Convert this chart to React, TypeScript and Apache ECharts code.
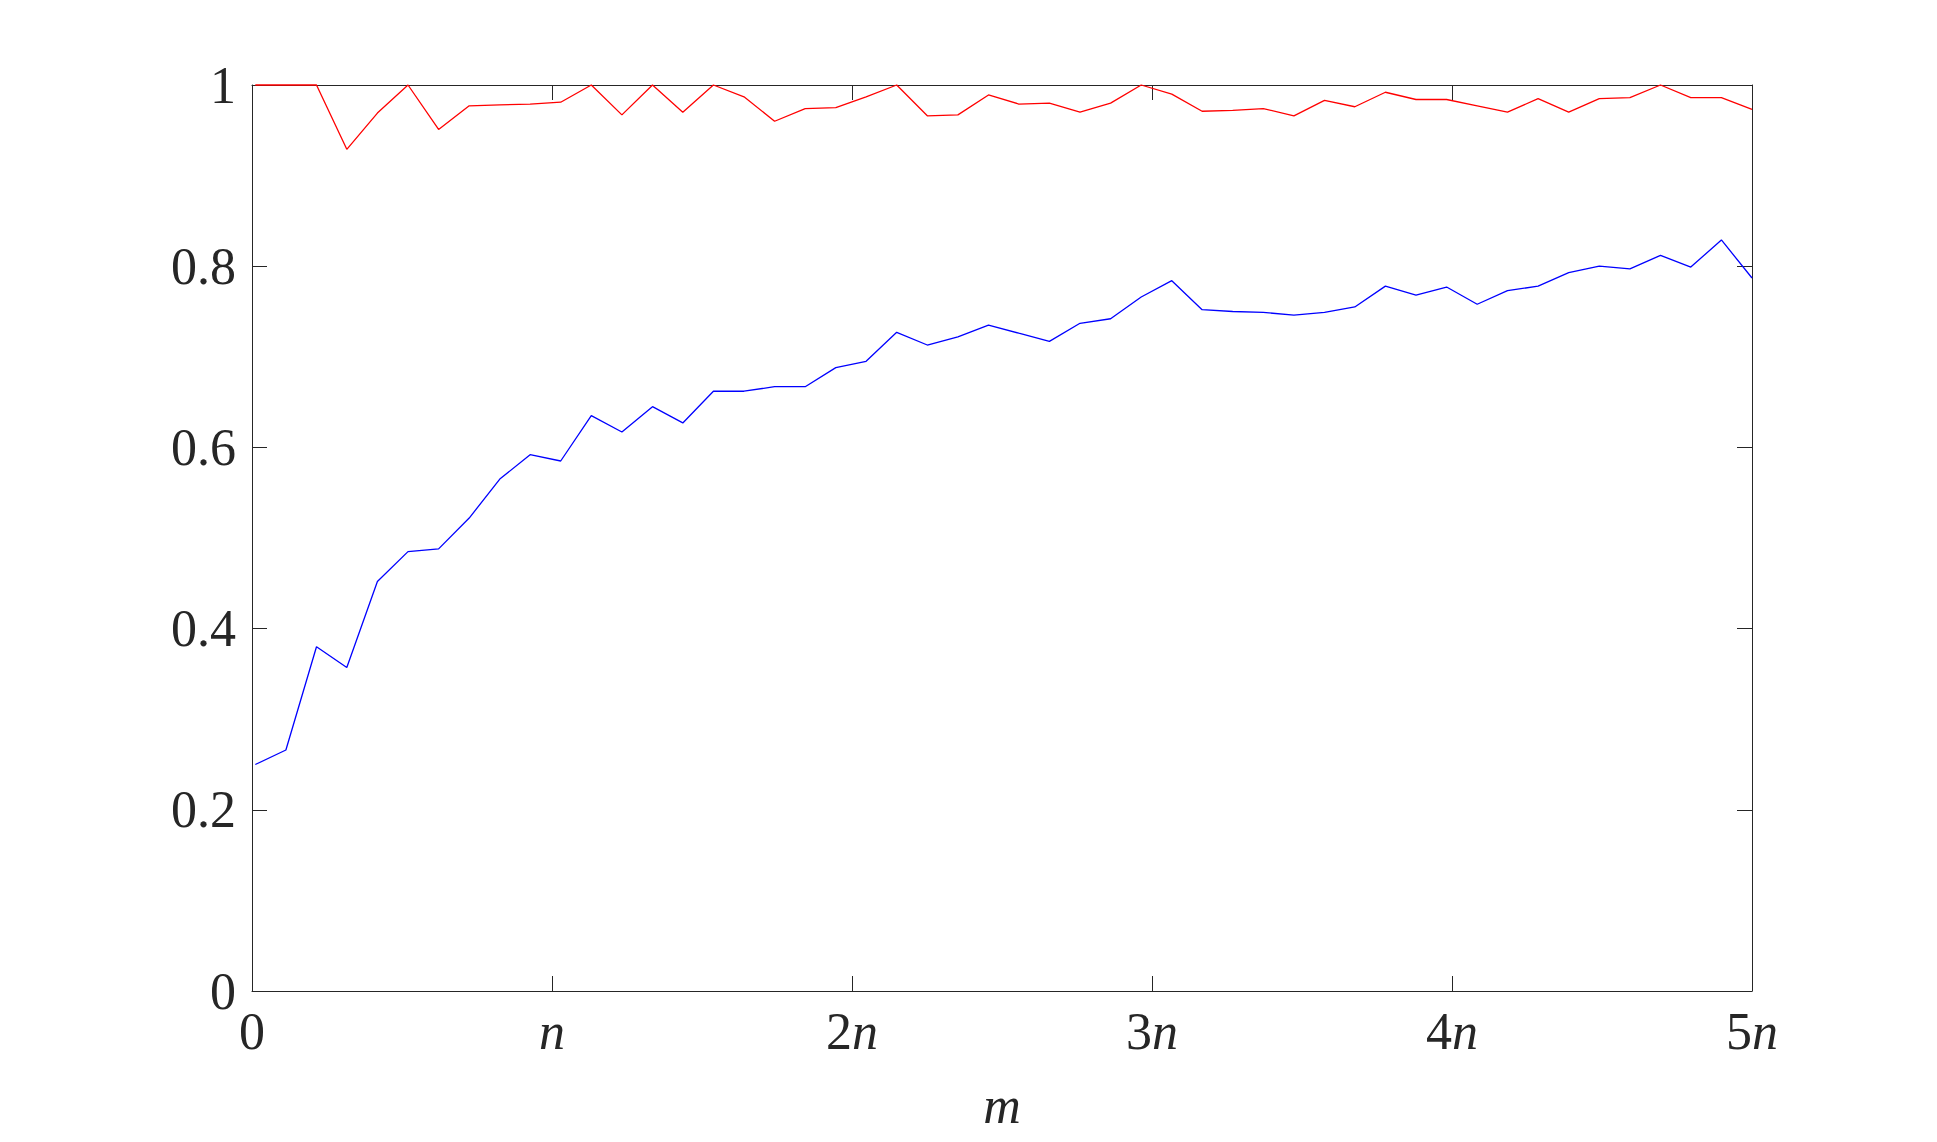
import React, { useEffect, useRef } from "react";
import * as echarts from "echarts";

// m in units of n
const mValues = [
  0.011, 0.113, 0.215, 0.316, 0.418, 0.52, 0.622, 0.724, 0.826, 0.927,
  1.029, 1.131, 1.233, 1.335, 1.436, 1.538, 1.64, 1.742, 1.844, 1.946,
  2.047, 2.149, 2.251, 2.353, 2.455, 2.556, 2.658, 2.76, 2.862, 2.964,
  3.066, 3.167, 3.269, 3.371, 3.473, 3.575, 3.676, 3.778, 3.88, 3.982,
  4.084, 4.185, 4.287, 4.389, 4.491, 4.593, 4.695, 4.796, 4.898, 5.0,
];

const redValues = [
  1.0, 1.0, 1.0, 0.929, 0.969, 1.0, 0.951, 0.977, 0.978, 0.979,
  0.981, 1.0, 0.967, 1.0, 0.97, 1.0, 0.987, 0.96, 0.974, 0.975,
  0.987, 1.0, 0.966, 0.967, 0.989, 0.979, 0.98, 0.97, 0.98, 1.0,
  0.99, 0.971, 0.972, 0.974, 0.966, 0.983, 0.976, 0.992, 0.984, 0.984,
  0.977, 0.97, 0.985, 0.97, 0.985, 0.986, 1.0, 0.986, 0.986, 0.973,
];

const blueValues = [
  0.25, 0.266, 0.38, 0.357, 0.452, 0.485, 0.488, 0.522, 0.565, 0.592,
  0.585, 0.635, 0.617, 0.645, 0.627, 0.662, 0.662, 0.667, 0.667, 0.688,
  0.695, 0.727, 0.713, 0.722, 0.735, 0.726, 0.717, 0.737, 0.742, 0.766,
  0.784, 0.752, 0.75, 0.749, 0.746, 0.749, 0.755, 0.778, 0.768, 0.777,
  0.758, 0.773, 0.778, 0.793, 0.8, 0.797, 0.812, 0.799, 0.829, 0.787,
];

const xTickLabels = ["0", "{i|n}", "2{i|n}", "3{i|n}", "4{i|n}", "5{i|n}"];

const FONT = "'Liberation Serif', 'DejaVu Serif', serif";
const AXIS_COLOR = "#262626";

export default function App() {
  const ref = useRef<HTMLDivElement>(null);

  useEffect(() => {
    if (!ref.current) return;
    const chart = echarts.init(ref.current, undefined, { renderer: "svg" });

    const richItalic = {
      i: { fontStyle: "italic", fontFamily: FONT, fontSize: 52, color: AXIS_COLOR },
    };

    const tickStyle = { show: true, inside: true, length: 15, lineStyle: { color: AXIS_COLOR, width: 1 } };
    const axisLine = { show: true, onZero: false, lineStyle: { color: AXIS_COLOR, width: 1 } };

    const option = {
      animation: false,
      backgroundColor: "#ffffff",
      grid: { left: 252, right: 185, top: 85, bottom: 151, containLabel: false },
      xAxis: [
        {
          type: "value",
          position: "bottom",
          min: 0,
          max: 5,
          interval: 1,
          axisLine,
          axisTick: tickStyle,
          splitLine: { show: false },
          axisLabel: {
            margin: 14,
            fontFamily: FONT,
            fontSize: 52,
            color: AXIS_COLOR,
            formatter: (v: number) => xTickLabels[Math.round(v)] ?? "",
            rich: richItalic,
          },
          name: "m",
          nameLocation: "middle",
          nameGap: 88,
          nameTextStyle: { fontFamily: FONT, fontSize: 52, fontStyle: "italic", color: AXIS_COLOR },
        },
        {
          type: "value",
          position: "top",
          min: 0,
          max: 5,
          interval: 1,
          axisLine,
          axisTick: tickStyle,
          axisLabel: { show: false },
          splitLine: { show: false },
        },
      ],
      yAxis: [
        {
          type: "value",
          position: "left",
          min: 0,
          max: 1,
          interval: 0.2,
          axisLine,
          axisTick: tickStyle,
          splitLine: { show: false },
          axisLabel: {
            margin: 16,
            fontFamily: FONT,
            fontSize: 52,
            color: AXIS_COLOR,
          },
        },
        {
          type: "value",
          position: "right",
          min: 0,
          max: 1,
          interval: 0.2,
          axisLine,
          axisTick: tickStyle,
          axisLabel: { show: false },
          splitLine: { show: false },
        },
      ],
      series: [
        {
          type: "line",
          data: mValues.map((m, i) => [m, redValues[i]]),
          showSymbol: false,
          lineStyle: { color: "#ff0000", width: 1.3 },
          itemStyle: { color: "#ff0000" },
          clip: false,
        },
        {
          type: "line",
          data: mValues.map((m, i) => [m, blueValues[i]]),
          showSymbol: false,
          lineStyle: { color: "#0000ff", width: 1.3 },
          itemStyle: { color: "#0000ff" },
          clip: false,
        },
      ],
    };

    chart.setOption(option as any);
    return () => chart.dispose();
  }, []);

  return (
    <div
      ref={ref}
      style={{ position: "fixed", left: 0, top: 0, width: 1937, height: 1142, background: "#fff" }}
    />
  );
}
